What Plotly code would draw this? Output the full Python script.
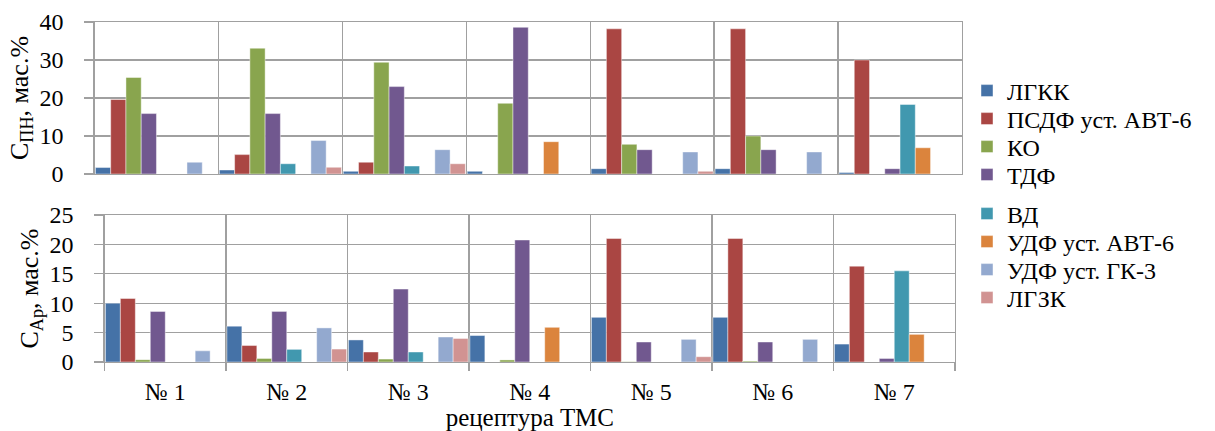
import plotly.graph_objects as go

categories = ["№ 1", "№ 2", "№ 3", "№ 4", "№ 5", "№ 6", "№ 7"]
series_names = ["ЛГКК", "ПСДФ уст. АВТ-6", "КО", "ТДФ",
                "ВД", "УДФ уст. АВТ-6", "УДФ уст. ГК-3", "ЛГЗК"]
colors = ["#4572A7", "#AA4643", "#89A54E", "#71588F",
          "#4198AF", "#DB843D", "#93A9CF", "#D19392"]

# C_ПН, мас.%  (upper chart)
pn_lgkk = [1.7, 1.05, 0.7, 0.7, 1.4, 1.4, 0.4]
pn_psdf = [19.6, 5.1, 3.1, 0, 38.2, 38.2, 30.0]
pn_ko = [25.4, 33.1, 29.4, 18.6, 7.8, 10.0, 0]
pn_tdf = [15.9, 15.9, 23.0, 38.6, 6.4, 6.4, 1.4]
pn_vd = [0, 2.7, 2.1, 0, 0, 0, 18.3]
pn_udf_avt = [0, 0, 0, 8.5, 0, 0, 6.9]
pn_udf_gk = [3.1, 8.8, 6.4, 0, 5.8, 5.8, 0]
pn_lgzk = [0, 1.76, 2.7, 0, 0.7, 0, 0]

# C_Ар, мас.%  (lower chart)
ar_lgkk = [10.0, 6.1, 3.75, 4.5, 7.6, 7.6, 3.05]
ar_psdf = [10.8, 2.8, 1.7, 0, 21.0, 21.0, 16.3]
ar_ko = [0.4, 0.6, 0.5, 0.35, 0.05, 0.15, 0]
ar_tdf = [8.6, 8.6, 12.4, 20.75, 3.4, 3.4, 0.6]
ar_vd = [0, 2.15, 1.7, 0, 0, 0, 15.5]
ar_udf_avt = [0, 0, 0, 5.9, 0, 0, 4.7]
ar_udf_gk = [1.9, 5.8, 4.25, 0, 3.85, 3.85, 0]
ar_lgzk = [0, 2.2, 4.0, 0, 0.9, 0, 0]

pn_series = [pn_lgkk, pn_psdf, pn_ko, pn_tdf, pn_vd, pn_udf_avt, pn_udf_gk, pn_lgzk]
ar_series = [ar_lgkk, ar_psdf, ar_ko, ar_tdf, ar_vd, ar_udf_avt, ar_udf_gk, ar_lgzk]

FONT = "Liberation Serif"
GRID = "#A0A0A0"
W, H = 1215, 431

# legend entry centres (pixels from top) – one legend per entry
legend_rows = [91, 119, 147, 175, 214, 242, 270, 298]
legend_names = ["legend"] + [f"legend{i}" for i in range(2, 9)]

fig = go.Figure()
for i, (name, col, vals) in enumerate(zip(series_names, colors, pn_series)):
    fig.add_trace(go.Bar(
        x=categories, y=vals, name=name, xaxis="x", yaxis="y",
        marker=dict(color=col, line=dict(color="rgba(255,255,255,0.55)", width=0.8)),
        legend=legend_names[i], showlegend=True,
    ))
for i, (name, col, vals) in enumerate(zip(series_names, colors, ar_series)):
    fig.add_trace(go.Bar(
        x=categories, y=vals, name=name, xaxis="x2", yaxis="y2",
        marker=dict(color=col, line=dict(color="rgba(255,255,255,0.55)", width=0.8)),
        showlegend=False,
    ))

def dx(a, b):
    return [a / W, b / W]
def dy(top, bottom):
    return [1 - bottom / H, 1 - top / H]

def f(size):
    return dict(family=FONT, size=size, color="black")

axis_common = dict(showline=True, linecolor=GRID, linewidth=1.3, mirror=True,
                   gridcolor=GRID, gridwidth=1.3, zeroline=False, automargin=False)

layout = dict(
    width=W, height=H,
    margin=dict(l=0, r=0, t=0, b=0, autoexpand=False),
    paper_bgcolor="white", plot_bgcolor="white",
    font=f(22),
    barmode="group", bargap=0.015, bargroupgap=0,
    xaxis=dict(domain=dx(94.5, 962), anchor="y", type="category",
               showticklabels=False, ticks="", tickson="boundaries",
               showgrid=True, **axis_common),
    yaxis=dict(domain=dy(22, 174), anchor="x", range=[0, 40], dtick=10,
               ticks="outside", ticklen=9, tickcolor=GRID, tickwidth=1.3,
               tickfont=f(24), ticklabelstandoff=16,
               title=dict(text="С<sub>ПН</sub>, мас.%", font=f(26), standoff=3),
               showgrid=True, **axis_common),
    xaxis2=dict(domain=dx(104.5, 955), anchor="y2", type="category",
                ticks="outside", ticklen=8, tickcolor=GRID, tickwidth=1.3,
                tickson="boundaries", tickfont=f(24), ticklabelstandoff=8,
                title=dict(text="рецептура ТМС", font=f(25), standoff=2),
                showgrid=True, **axis_common),
    yaxis2=dict(domain=dy(215, 362), anchor="x2", range=[0, 25], dtick=5,
                ticks="outside", ticklen=9, tickcolor=GRID, tickwidth=1.3,
                tickfont=f(24), ticklabelstandoff=16,
                title=dict(text="С<sub>Ар</sub>, мас.%", font=f(26), standoff=3),
                showgrid=True, **axis_common),
)
for ln, row in zip(legend_names, legend_rows):
    layout[ln] = dict(x=967 / W, y=1 - row / H, xanchor="left", yanchor="middle",
                      font=f(24), bgcolor="rgba(0,0,0,0)", itemclick=False,
                      itemdoubleclick=False, borderwidth=0)

fig.update_layout(**layout)
fig.write_html("out.html",
               config={"displayModeBar": False, "staticPlot": True},
               post_script="document.body.style.margin='0px';document.body.style.overflow='hidden';")
